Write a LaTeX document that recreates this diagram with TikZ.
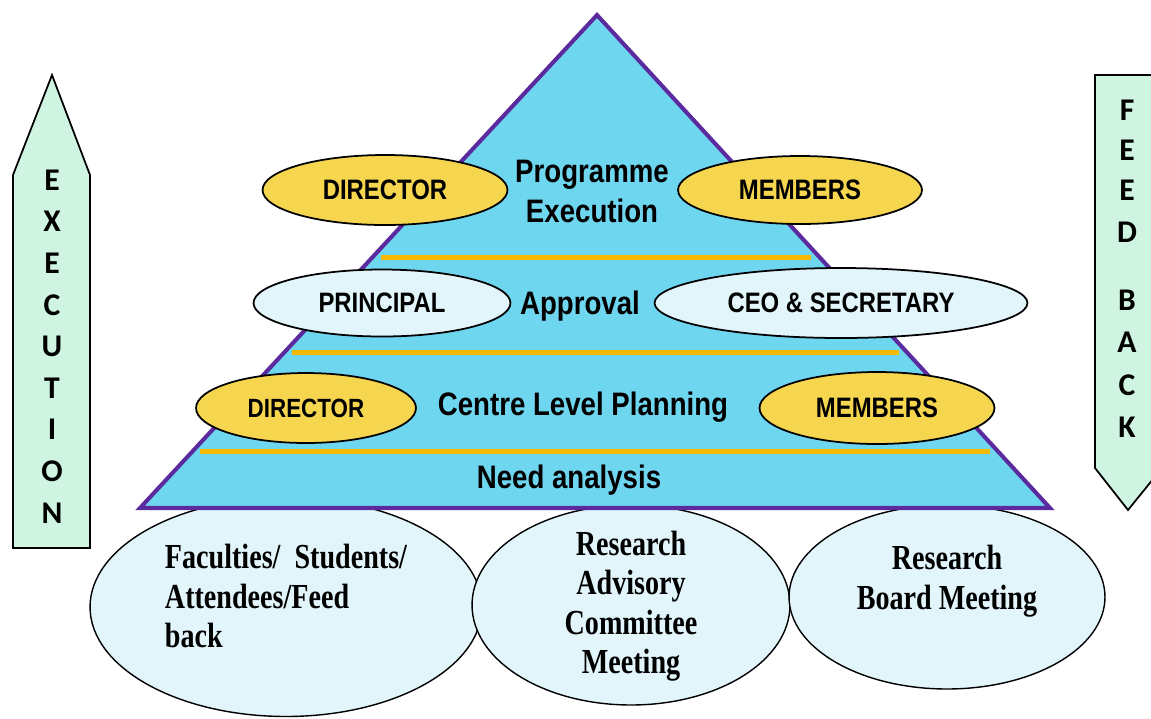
\documentclass[tikz,border=0pt]{standalone}
\usepackage{fontspec}
\usepackage{xcolor}
\usepackage{tikz}
\usetikzlibrary{shapes.geometric, positioning, calc}
\setmainfont{Liberation Serif}
\newfontfamily\narrowsans[FakeStretch=0.85]{Liberation Sans}
\newfontfamily\narrowserif[FakeStretch=0.8]{Liberation Serif}
\newfontfamily\arrowfont{Carlito}
\definecolor{pyrfill}{HTML}{6FD6F0}
\definecolor{pyrline}{HTML}{5A2A9E}
\definecolor{tierline}{HTML}{F7B900}
\definecolor{gold}{HTML}{F5D64E}
\definecolor{paleblue}{HTML}{E1F5FA}
\definecolor{mint}{HTML}{CFF5E2}

\begin{document}
\begin{tikzpicture}[x=0.02cm, y=-0.02cm,
    role/.style={ellipse, draw, line width=1pt, inner sep=0pt},
    gold role/.style={role, fill=gold},
    pale role/.style={role, fill=paleblue},
    rolelabel/.style={font=\narrowsans\bfseries\fontsize{16}{18}\selectfont},
    stage/.style={align=center, font=\narrowsans\bfseries\fontsize{18.5}{22.8}\selectfont},
    base/.style={ellipse, draw, line width=0.8pt, fill=paleblue, inner sep=0pt},
    basetext/.style={font=\narrowserif\bfseries\fontsize{20}{22.5}\selectfont},
    arrowbox/.style={draw, line width=1pt, fill=mint, line join=miter},
    letter/.style={font=\arrowfont\bfseries\fontsize{18}{18}\selectfont, inner sep=0pt}]
    \clip (0,0) rectangle (1151,718);
    \useasboundingbox (0,0) rectangle (1151,718);

    % bodies under the pyramid
    \node (fac) [base, minimum width=7.84cm, minimum height=4.38cm] at (286,607) {};
    \node (rac) [base, minimum width=6.36cm, minimum height=4.0cm] at (631,605) {};
    \node (rbm) [base, minimum width=6.32cm, minimum height=3.68cm] at (947,597) {};
    \node (factext) [basetext, align=left] at (286,596) {Faculties/\ \ Students/\\Attendees/Feed\\back};
    \node (ractext) [basetext, align=center] at (631,606) {Research\\Advisory\\Committee\\Meeting};
    \node (rbmtext) [basetext, align=center] at (947,581) {Research\\Board Meeting};

    % pyramid
    \coordinate (bl) at (140,508);
    \coordinate (br) at (1050,508);
    \coordinate (apex) at (597,15);
    \draw [fill=pyrfill, draw=pyrline, line width=2.3pt, line join=miter] (bl) -- (apex) -- (br) -- cycle;
    \foreach \t in {0.114, 0.316, 0.509}
        \draw [tierline, line width=2.8pt] ($(bl)!\t!(apex)+(8,0)$) -- ($(br)!\t!(apex)+(-8,0)$);

    \node (exec) [stage] at (592,191) {Programme\\Execution};
    \node (appr) [stage] at (580,306) {Approval};
    \node (plan) [stage] at (583,407) {Centre Level Planning};
    \node (need) [stage] at (569,480) {Need analysis};

    \node (dirtop) [gold role, minimum width=4.9cm, minimum height=1.4cm] at (385,190) {};
    \node [rolelabel] at (dirtop) {DIRECTOR};
    \node (memtop) [gold role, minimum width=4.88cm, minimum height=1.36cm] at (800,190) {};
    \node [rolelabel] at (memtop) {MEMBERS};
    \node (principal) [pale role, minimum width=5.14cm, minimum height=1.34cm] at (382,303) {};
    \node [rolelabel] at (principal) {PRINCIPAL};
    \node (ceo) [pale role, minimum width=7.46cm, minimum height=1.4cm] at (841,303) {};
    \node [rolelabel] at (ceo) {CEO \& SECRETARY};
    \node (dirlow) [gold role, minimum width=4.4cm, minimum height=1.4cm] at (306,408) {};
    \node [rolelabel, font=\narrowsans\bfseries\fontsize{15}{17}\selectfont] at (dirlow) {DIRECTOR};
    \node (memlow) [gold role, minimum width=4.7cm, minimum height=1.44cm] at (877,408) {};
    \node [rolelabel] at (memlow) {MEMBERS};

    % side arrows
    \draw [arrowbox] (13,548) -- (13,175) -- (52,75) -- (90,175) -- (90,548) -- cycle;
    \foreach \ch [count=\i from 0] in {E,X,E,C,U,T,I,O,N}
        \node (up\i) [letter] at (52,180+41.6*\i) {\ch};
    \draw [arrowbox] (1095,75) -- (1162,75) -- (1162,468) -- (1128,510) -- (1095,468) -- cycle;
    \foreach \ch/\yy [count=\i] in {F/110, E/150, E/190, D/232, B/300, A/342, C/385, K/427}
        \node (down\i) [letter] at (1127,\yy) {\ch};
\end{tikzpicture}
\end{document}
